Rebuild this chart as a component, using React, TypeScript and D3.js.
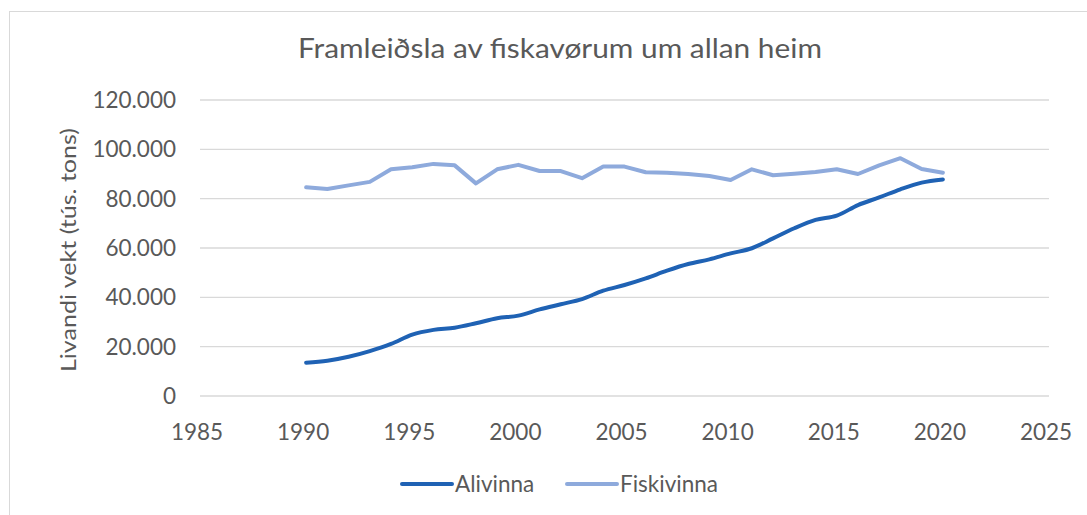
import * as d3 from 'd3';
import { useEffect, useRef } from 'react';

const WIDTH = 1087, HEIGHT = 515;

const years = d3.range(1990, 2021);

const alivinna = [
    13.5, 14.3, 15.9, 18.2, 21.1, 24.9, 26.8, 27.7, 29.5, 31.5,
    32.6, 35.1, 37.2, 39.3, 42.7, 45.0, 47.7, 50.8, 53.5, 55.4,
    57.8, 59.9, 63.9, 68.0, 71.4, 73.1, 77.4, 80.5, 83.8, 86.5, 87.8
].map(v => v * 1000);

const fiskivinna = [
    84.6, 83.9, 85.4, 86.8, 91.9, 92.7, 94.1, 93.5, 86.2, 91.9,
    93.7, 91.2, 91.2, 88.3, 93.0, 93.0, 90.7, 90.5, 90.0, 89.2,
    87.6, 91.9, 89.5, 90.1, 90.8, 91.9, 90.0, 93.5, 96.4, 92.0, 90.5
].map(v => v * 1000);

const xTicks = [1985, 1990, 1995, 2000, 2005, 2010, 2015, 2020, 2025];
const yTicks = [0, 20000, 40000, 60000, 80000, 100000, 120000];

const series = [
    { name: 'Alivinna', values: alivinna, color: '#1f62b4' },
    { name: 'Fiskivinna', values: fiskivinna, color: '#8eaadc' },
];

const FONT = 'Lato, "Open Sans", sans-serif';
const TEXT = '#595959';

// 120.000 style labels
const fmt = (v: number) => v === 0 ? '0' : d3.format(',')(v).replace(/,/g, '.');

const App = () => {
    const ref = useRef<SVGSVGElement>(null);

    useEffect(() => {
        const svg = d3.select(ref.current);
        svg.selectAll('*').remove();

        const x = d3.scaleLinear().domain([1985, 2025]).range([200, 1049]);
        const y = d3.scaleLinear().domain([0, 120000]).range([396, 100]);

        // chart frame
        svg.append('rect')
            .attr('x', 9.5).attr('y', 11.5)
            .attr('width', WIDTH + 20).attr('height', HEIGHT + 20)
            .attr('fill', 'white').attr('stroke', '#d9d9d9');

        svg.append('text')
            .attr('x', 560).attr('y', 58)
            .attr('text-anchor', 'middle')
            .attr('font-family', FONT).attr('font-size', 26)
            .attr('textLength', 524).attr('lengthAdjust', 'spacingAndGlyphs')
            .attr('fill', TEXT)
            .text('Framleiðsla av fiskavørum um allan heim');

        // gridlines
        svg.append('g')
            .selectAll('line')
            .data(yTicks)
            .join('line')
            .attr('x1', x(1985)).attr('x2', x(2025))
            .attr('y1', d => y(d)).attr('y2', d => y(d))
            .attr('stroke', '#d9d9d9').attr('stroke-width', 1.3);

        svg.append('g')
            .selectAll('text')
            .data(yTicks)
            .join('text')
            .attr('x', 176).attr('y', d => y(d))
            .attr('dy', '0.36em')
            .attr('text-anchor', 'end')
            .attr('font-family', FONT).attr('font-size', 22.5)
            .attr('fill', TEXT)
            .text(fmt);

        svg.append('g')
            .selectAll('text')
            .data(xTicks)
            .join('text')
            .attr('x', d => x(d) - 3).attr('y', 440)
            .attr('text-anchor', 'middle')
            .attr('font-family', FONT).attr('font-size', 22.5)
            .attr('fill', TEXT)
            .text(d => d);

        svg.append('text')
            .attr('transform', `translate(76,${250}) rotate(-90)`)
            .attr('text-anchor', 'middle')
            .attr('font-family', FONT).attr('font-size', 22)
            .attr('textLength', 244).attr('lengthAdjust', 'spacingAndGlyphs')
            .attr('fill', TEXT)
            .text('Livandi vekt (tús. tons)');

        const smooth = d3.line<number>()
            .x((_, i) => x(years[i]))
            .y(d => y(d))
            .curve(d3.curveMonotoneX);
        const straight = d3.line<number>()
            .x((_, i) => x(years[i]))
            .y(d => y(d));

        // light series is drawn first so the dark one sits on top
        [...series].reverse().forEach(s => {
            svg.append('path')
                .datum(s.values)
                .attr('d', s.name === 'Alivinna' ? smooth : straight)
                .attr('fill', 'none')
                .attr('stroke', s.color)
                .attr('stroke-width', 4)
                .attr('stroke-linejoin', 'round')
                .attr('stroke-linecap', 'round');
        });

        const legendX = [402, 567];
        const lg = svg.append('g')
            .selectAll('g')
            .data(series)
            .join('g')
            .attr('transform', (_, i) => `translate(${legendX[i]},484)`);
        lg.append('line')
            .attr('x1', 0).attr('x2', 50)
            .attr('stroke', d => d.color).attr('stroke-width', 4)
            .attr('stroke-linecap', 'round');
        lg.append('text')
            .attr('x', 53).attr('dy', '0.36em')
            .attr('font-family', FONT).attr('font-size', 22.5)
            .attr('fill', TEXT)
            .text(d => d.name);
    }, []);

    return (
        <div style={{ position: 'absolute', left: 0, top: 0 }}>
            <svg ref={ref} width={WIDTH} height={HEIGHT} style={{ display: 'block' }} />
        </div>
    );
};

export default App;
